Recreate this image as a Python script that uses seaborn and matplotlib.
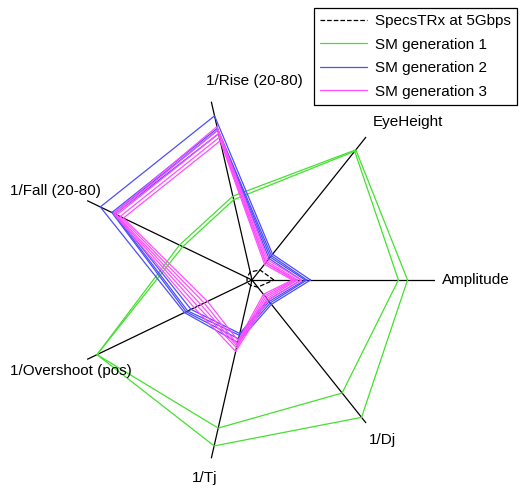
import numpy as np
import pandas as pd
import matplotlib
matplotlib.use("Agg")
import matplotlib.pyplot as plt
from matplotlib.lines import Line2D
import seaborn as sns

############### Data (normalised to axis length)
categories = ["Amplitude", "EyeHeight", "1/Rise (20-80)", "1/Fall (20-80)",
              "1/Overshoot (pos)", "1/Tj", "1/Dj"]

spec = [0.12, 0.07, 0.045, 0.03, 0.03, 0.03, 0.05]

gen1 = [
    [0.80, 0.90, 0.45, 0.42, 0.94, 0.83, 0.79],
    [0.85, 0.91, 0.47, 0.44, 0.94, 0.93, 0.96],
]

gen2 = [
    [0.32, 0.18, 0.92, 0.92, 0.41, 0.35, 0.17],
    [0.30, 0.17, 0.85, 0.85, 0.40, 0.33, 0.16],
    [0.29, 0.16, 0.84, 0.84, 0.39, 0.31, 0.15],
    [0.27, 0.15, 0.82, 0.83, 0.37, 0.30, 0.14],
]

gen3 = [
    [0.27, 0.14, 0.86, 0.84, 0.35, 0.40, 0.14],
    [0.25, 0.13, 0.84, 0.83, 0.33, 0.38, 0.13],
    [0.24, 0.12, 0.82, 0.82, 0.31, 0.37, 0.12],
    [0.23, 0.12, 0.80, 0.80, 0.29, 0.36, 0.11],
    [0.22, 0.11, 0.78, 0.78, 0.27, 0.34, 0.10],
]

series_names = ["SpecsTRx at 5Gbps", "SM generation 1", "SM generation 2", "SM generation 3"]
colors = {"SpecsTRx at 5Gbps": "black", "SM generation 1": "#44e030",
          "SM generation 2": "#4d4dff", "SM generation 3": "#ff4dff"}

############### Build a long table with closed polygons
n = len(categories)
theta = np.linspace(0, 2 * np.pi, n, endpoint=False)
theta_closed = np.append(theta, theta[0])

rows = []
groups = [(series_names[0], [spec]), (series_names[1], gen1),
          (series_names[2], gen2), (series_names[3], gen3)]
for name, runs in groups:
    for i, vals in enumerate(runs):
        vals_closed = list(vals) + [vals[0]]
        for t, r in zip(theta_closed, vals_closed):
            rows.append({"series": name, "run": f"{name}-{i}", "theta": t, "r": r})
df = pd.DataFrame(rows)

############### Plot
sns.set_style("white")
plt.rcParams["font.family"] = ["Liberation Sans", "DejaVu Sans"]
plt.rcParams["text.color"] = "black"

fig = plt.figure(figsize=(5.23, 4.90), dpi=100)
ax = fig.add_axes([69 / 523, 27 / 490, 366 / 523, 366 / 490], projection="polar")
ax.set_ylim(0, 1)
ax.grid(False)
ax.spines["polar"].set_visible(False)
ax.set_xticks([])
ax.set_yticks([])

# spokes
for t in theta:
    ax.plot([t, t], [0, 1], color="black", lw=0.9, zorder=1)

for name in series_names:
    sub = df[df["series"] == name]
    sns.lineplot(data=sub, x="theta", y="r", units="run", estimator=None, sort=False,
                 color=colors[name], lw=0.9, ax=ax, legend=False,
                 linestyle="--" if name == series_names[0] else "-", zorder=2)
ax.set_xlabel("")
ax.set_ylabel("")

# axis labels (offsets in points from the spoke end)
label_offsets = [(5, 0, "left"), (5, 11, "left"), (31, 15, "center"), (10, 7, "right"),
                 (-12, -8, "center"), (-5, -14, "center"), (12, -12, "center")]
for t, lab, (dx, dy, ha) in zip(theta, categories, label_offsets):
    ax.annotate(lab, xy=(t, 1.0), xytext=(dx, dy), textcoords="offset points",
                ha=ha, va="center", fontsize=11, color="black", annotation_clip=False)

handles = [Line2D([], [], color=colors[s], lw=0.9,
                  linestyle="--" if s == series_names[0] else "-") for s in series_names]
leg = fig.legend(handles, series_names, loc="upper right",
                 bbox_to_anchor=(517 / 523, 1 - 8 / 490), borderaxespad=0, fontsize=11,
                 fancybox=False, framealpha=1, edgecolor="black",
                 handlelength=3.1, labelspacing=0.62, borderpad=0.4, handletextpad=0.5)
leg.get_frame().set_linewidth(0.9)
for txt in leg.get_texts():
    txt.set_color("black")

fig.savefig("out.png", dpi=100)
